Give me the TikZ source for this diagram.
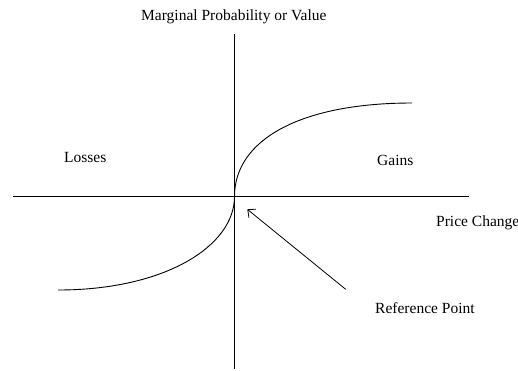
\documentclass[tikz,border=0pt]{standalone}
\usepackage{fontspec}
\setmainfont{Liberation Serif}
\usepackage{tikz}
\usetikzlibrary{arrows.meta, positioning, calc}

\begin{document}
\begin{tikzpicture}[x=1pt,y=-1pt,>={Straight Barb[length=6pt,width=11pt]},
    lbl/.style={anchor=base west,inner sep=0pt,font=\fontsize{15.5}{18}\selectfont},
    axis/.style={line width=1pt},
    curve/.style={line width=0.9pt}]
  \useasboundingbox (0,0) rectangle (518,370);

  % axes
  \coordinate (O) at (234.5,196.5);
  \coordinate (xl) at (13,196.5);
  \coordinate (xr) at (469,196.5);
  \coordinate (yt) at (234.5,34);
  \coordinate (yb) at (234.5,369);
  \draw[axis] (xl)--(xr);
  \draw[axis] (yt)--(yb);

  % value curve
  \coordinate (gainend) at (412,103);
  \coordinate (lossend) at (58,290);
  \draw[curve] (O) .. controls (234.5,140) and (300,103) .. (gainend);
  \draw[curve] (O) .. controls (234.5,246) and (165,290) .. (lossend);

  % labels
  \node[lbl] (vlbl) at (141,20.5){Marginal Probability or Value};
  \node[lbl] (losses) at (64,162.7){Losses};
  \node[lbl] (gains) at (377,165){Gains};
  \node[lbl] (price) at (436,226){Price Change};
  \node[lbl] (refpt) at (375,313.3){Reference Point};

  \coordinate (reftail) at (345.7,289.3);
  \coordinate (reftip) at (247.3,209.3);
  \draw[->,line width=0.8pt] (reftail)--(reftip);
\end{tikzpicture}
\end{document}
